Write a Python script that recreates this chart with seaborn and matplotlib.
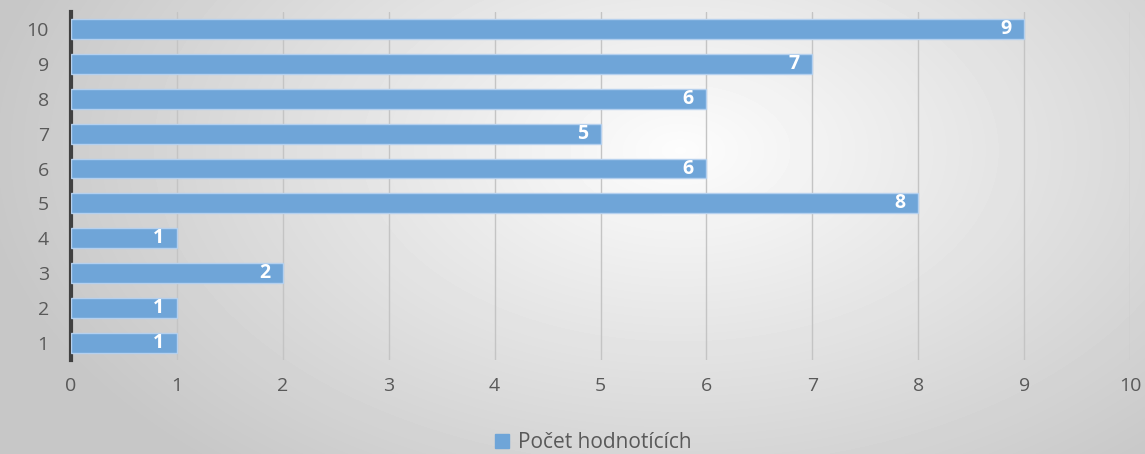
import numpy as np
import pandas as pd
import matplotlib
matplotlib.use("Agg")
import matplotlib.pyplot as plt
import seaborn as sns

sns.set_style("white")
plt.rcParams["font.family"] = ["Open Sans", "DejaVu Sans"]

# data
categories = ["10", "9", "8", "7", "6", "5", "4", "3", "2", "1"]
counts = [9, 7, 6, 5, 6, 8, 1, 2, 1, 1]
series_name = "Počet hodnotících"
x_ticks = list(range(0, 11))

df = pd.DataFrame({"Hodnocení": categories, series_name: counts})

bar_color = "#6fa5d8"
text_color = "#595959"

fig = plt.figure(figsize=(11.45, 4.54), dpi=100)

# radial gradient background
bg = fig.add_axes([0, 0, 1, 1], zorder=-10)
yy, xx = np.mgrid[0:454, 0:1145]
r = np.sqrt(((xx - 680) / 800.0) ** 2 + ((yy - 150) / 480.0) ** 2)
shade = np.clip(0.99 - 0.24 * r, 0.78, 0.99)
bg.imshow(shade, cmap="gray", vmin=0, vmax=1, aspect="auto", extent=[0, 1, 0, 1])
bg.axis("off")

ax = fig.add_axes([0.062, 0.207, 0.925, 0.767])
ax.patch.set_alpha(0)

sns.barplot(data=df, y="Hodnocení", x=series_name, order=categories,
            orient="h", color=bar_color, saturation=1, width=0.57,
            edgecolor="#b5d0ee", linewidth=1, ax=ax, zorder=3)

for patch, v in zip(ax.patches, counts):
    cy = patch.get_y() + patch.get_height() / 2
    ax.text(v - 0.12, cy, str(v), color="white", fontweight="bold",
            fontsize=14, ha="right", va="center", zorder=4)

ax.set_xlim(0, 10)
ax.set_ylim(9.5, -0.5)
ax.set_xticks(x_ticks)
ax.xaxis.grid(True, color="#c4c4c4", linewidth=1)
ax.set_axisbelow(True)
ax.tick_params(axis="both", length=0, labelsize=14, labelcolor=text_color)
ax.tick_params(axis="x", pad=12)
ax.tick_params(axis="y", pad=16)
ax.set_xlabel("")
ax.set_ylabel("")
for s in ["top", "right", "bottom"]:
    ax.spines[s].set_visible(False)
ax.spines["left"].set_color("#404040")
ax.spines["left"].set_linewidth(3)

handle = plt.Line2D([], [], marker="s", linestyle="", color=bar_color,
                    markersize=10)
fig.legend([handle], [series_name], loc="center", bbox_to_anchor=(0.512, 0.025),
           frameon=False, fontsize=15, handletextpad=-0.2, labelcolor=text_color)

fig.savefig("out.png", dpi=100)
